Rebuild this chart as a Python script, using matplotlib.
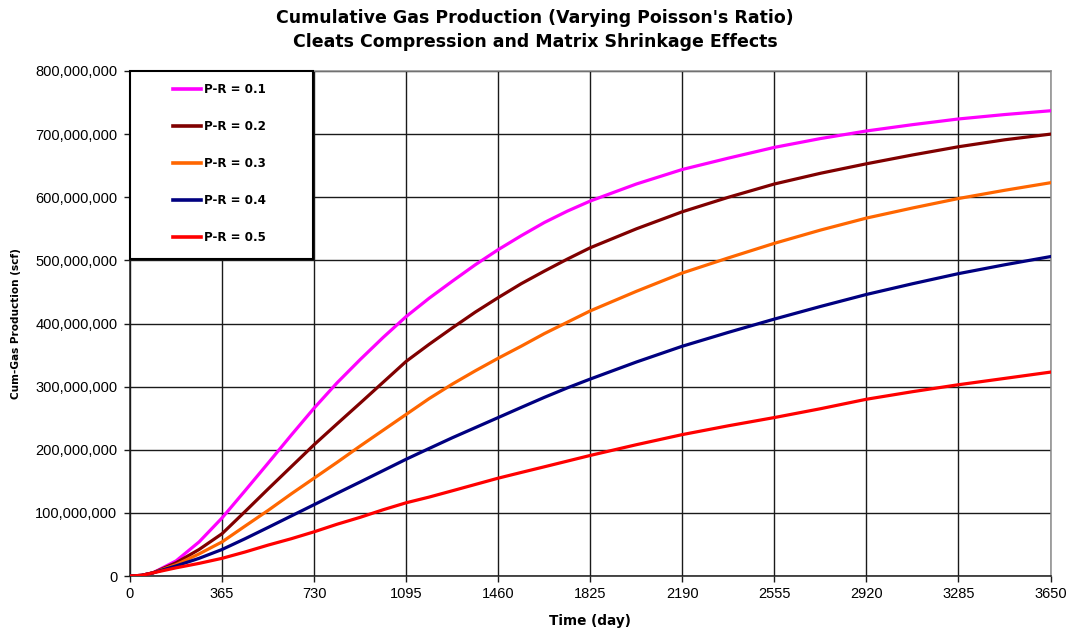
import matplotlib
matplotlib.use("Agg")
import matplotlib.pyplot as plt
from matplotlib.patches import Rectangle
from matplotlib.ticker import FuncFormatter, FixedLocator

# Time axis (days) and cumulative gas production (millions of scf) per Poisson's ratio
days = [0, 46, 91, 183, 274, 365, 456, 548, 639, 730, 821, 913, 1004, 1095,
        1186, 1278, 1369, 1460, 1551, 1643, 1734, 1825, 2008, 2190, 2373,
        2555, 2738, 2920, 3103, 3285, 3468, 3650]

pr_01 = [0, 1, 5, 24, 54, 92, 135, 179, 223, 266, 306, 343, 378, 411,
         440, 467, 493, 517, 539, 560, 578, 594, 621, 644, 662,
         679, 693, 705, 715, 724, 731, 737]
pr_02 = [0, 1, 5, 21, 42, 67, 102, 138, 173, 208, 241, 274, 307, 340,
         367, 393, 418, 441, 463, 483, 502, 520, 550, 577, 600,
         621, 638, 653, 667, 680, 691, 700]
pr_03 = [0, 1, 5, 18, 35, 54, 79, 104, 130, 155, 180, 206, 231, 256,
         281, 304, 325, 345, 364, 384, 402, 420, 451, 480, 504,
         527, 548, 567, 583, 598, 611, 623]
pr_04 = [0, 1, 5, 16, 28, 42, 59, 77, 95, 113, 131, 149, 167, 185,
         202, 219, 235, 251, 267, 283, 298, 312, 339, 364, 386,
         407, 427, 446, 463, 479, 493, 506]
pr_05 = [0, 1, 5, 13, 20, 28, 38, 49, 59, 70, 82, 93, 105, 116,
         125, 135, 145, 155, 164, 173, 182, 191, 208, 224, 238,
         251, 265, 280, 292, 303, 313, 323]

series_labels = ["P-R = 0.1", "P-R = 0.2", "P-R = 0.3", "P-R = 0.4", "P-R = 0.5"]
series_colors = ["#FF00FF", "#800000", "#FF6600", "#000080", "#FF0000"]

x_ticks = [0, 365, 730, 1095, 1460, 1825, 2190, 2555, 2920, 3285, 3650]
y_ticks = [0, 100e6, 200e6, 300e6, 400e6, 500e6, 600e6, 700e6, 800e6]

SCALE = 1e6  # series are stored in millions of scf

fig = plt.figure(figsize=(10.68, 6.31), dpi=100)
ax = fig.add_axes([130 / 1068, 55 / 631, 920.5 / 1068, 505 / 631])

bold_font = "DejaVu Sans"
tick_font = "Liberation Sans"

for vals, lab, col in zip([pr_01, pr_02, pr_03, pr_04, pr_05],
                          series_labels, series_colors):
    ax.plot(days, [v * SCALE for v in vals], color=col, lw=2.3,
            label=lab, zorder=3, solid_joinstyle="round")

ax.set_xlim(0, 3650)
ax.set_ylim(0, 800e6)
ax.xaxis.set_major_locator(FixedLocator(x_ticks))
ax.yaxis.set_major_locator(FixedLocator(y_ticks))
ax.yaxis.set_major_formatter(FuncFormatter(lambda v, p: f"{int(round(v)):,}"))

ax.grid(True, color="#1a1a1a", lw=1.0, zorder=1)
ax.set_axisbelow(True)

for side in ("left", "bottom"):
    ax.spines[side].set_color("#1a1a1a")
    ax.spines[side].set_linewidth(1.1)
for side in ("top", "right"):
    ax.spines[side].set_color("#8c8c8c")
    ax.spines[side].set_linewidth(1.1)

ax.tick_params(axis="both", direction="out", length=4, width=1,
               color="#1a1a1a", labelsize=10.5)
ax.tick_params(axis="y", pad=5)
ax.tick_params(axis="x", pad=4)
for lab in ax.get_xticklabels() + ax.get_yticklabels():
    lab.set_fontfamily(tick_font)

ax.set_xlabel("Time (day)", fontfamily=bold_font, fontweight="bold",
              fontsize=9.8, labelpad=9)
ax.set_ylabel("Cum-Gas Production (scf)", fontfamily=bold_font,
              fontweight="bold", fontsize=7.6, labelpad=10)

fig.text(0.501, 0.986,
         "Cumulative Gas Production (Varying Poisson's Ratio)\n"
         "Cleats Compression and Matrix Shrinkage Effects",
         ha="center", va="top", fontfamily=bold_font, fontweight="bold",
         fontsize=12.5, linespacing=1.42)

# Legend panel: white box with black border in the upper-left corner
box = Rectangle((0, 1 - 188 / 505), 183 / 920.5, 188 / 505,
                transform=ax.transAxes, facecolor="white",
                edgecolor="black", lw=1.5, zorder=4, clip_on=False)
ax.add_patch(box)

leg = ax.legend(loc="upper left", bbox_to_anchor=(37 / 920.5, 1 - 6 / 505),
                frameon=False, borderpad=0, handlelength=2.35,
                handletextpad=0.25, labelspacing=2.02,
                prop={"family": bold_font, "weight": "bold", "size": 8.6})
leg.set_zorder(5)
for h in leg.get_lines():
    h.set_linewidth(2.6)

fig.savefig("out.png", dpi=100, facecolor="white")
